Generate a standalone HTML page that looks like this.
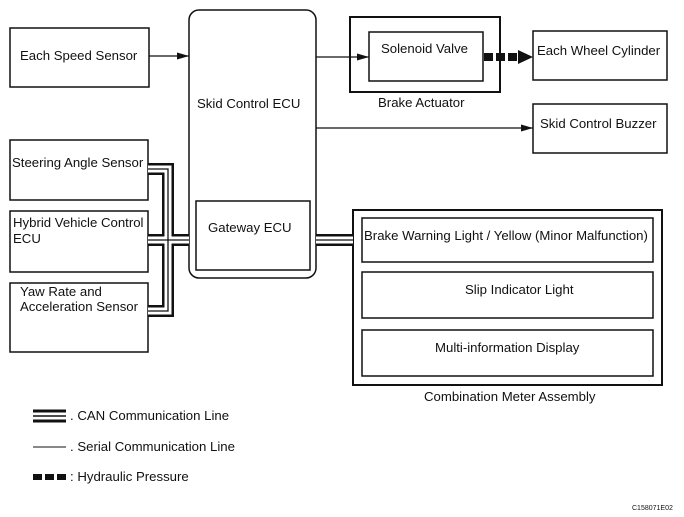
<!DOCTYPE html>
<html><head><style>
html,body{margin:0;padding:0;background:#fff;}
svg{display:block;}
text{font-family:"Liberation Sans",Arial,sans-serif;font-size:13.2px;fill:#111;}
</style></head><body>
<svg width="684" height="517" viewBox="0 0 684 517" xmlns="http://www.w3.org/2000/svg">
<defs>
<marker id="ah" markerWidth="12" markerHeight="8" refX="12" refY="4" orient="auto" markerUnits="userSpaceOnUse"><path d="M0,0.5 L12,4 L0,7.5 Z" fill="#111"/></marker>
</defs>
<g fill="none" stroke="#111" stroke-width="1.5">
<rect x="10" y="28" width="139" height="59"/>
<rect x="189" y="10" width="127" height="268" rx="10"/>
<rect x="196" y="201" width="114" height="69"/>
<rect x="350" y="17" width="150" height="75" stroke-width="2"/>
<rect x="369" y="32" width="114" height="49"/>
<rect x="533" y="31" width="134" height="49"/>
<rect x="533" y="104" width="134" height="49"/>
<rect x="10" y="140" width="138" height="60"/>
<rect x="10" y="211" width="138" height="61"/>
<rect x="10" y="283" width="138" height="69"/>
<rect x="353" y="210" width="309" height="175" stroke-width="2"/>
<rect x="362" y="218" width="291" height="44"/>
<rect x="362" y="272" width="291" height="46"/>
<rect x="362" y="330" width="291" height="46"/>
</g>
<g stroke="#111" stroke-width="1.2" fill="none">
<line x1="149" y1="56" x2="189" y2="56" marker-end="url(#ah)"/>
<line x1="316" y1="57" x2="369" y2="57" marker-end="url(#ah)"/>
<line x1="316" y1="128" x2="533" y2="128" marker-end="url(#ah)"/>
</g>
<line x1="484" y1="57" x2="520" y2="57" stroke="#111" stroke-width="8" stroke-dasharray="9,3"/>
<path d="M518,50 L533,57 L518,64 Z" fill="#111"/>
<g fill="none" stroke-linejoin="miter">
<path d="M148,169 H168 V311 H148 M148,240 H189 M316,240 H353" stroke="#111" stroke-width="12"/>
<path d="M148,169 H168 V311 H148 M148,240 H189 M316,240 H353" stroke="#fff" stroke-width="7"/>
<path d="M148,169 H168 V311 H148 M148,240 H189 M316,240 H353" stroke="#111" stroke-width="1.3"/>
</g>
<text x="20" y="60">Each Speed Sensor</text>
<text x="197" y="108">Skid Control ECU</text>
<text x="208" y="232">Gateway ECU</text>
<text x="381" y="53">Solenoid Valve</text>
<text x="378" y="107">Brake Actuator</text>
<text x="537" y="55">Each Wheel Cylinder</text>
<text x="540" y="128">Skid Control Buzzer</text>
<text x="12" y="167">Steering Angle Sensor</text>
<text x="13" y="227">Hybrid Vehicle Control</text>
<text x="13" y="243">ECU</text>
<text x="20" y="296">Yaw Rate and</text>
<text x="20" y="311">Acceleration Sensor</text>
<text x="364" y="240">Brake Warning Light / Yellow (Minor Malfunction)</text>
<text x="465" y="294">Slip Indicator Light</text>
<text x="435" y="352">Multi-information Display</text>
<text x="424" y="401">Combination Meter Assembly</text>
<g stroke="#111">
<line x1="33" y1="411" x2="66" y2="411" stroke-width="3"/>
<line x1="33" y1="416" x2="66" y2="416" stroke-width="1.5"/>
<line x1="33" y1="421" x2="66" y2="421" stroke-width="3"/>
<line x1="33" y1="447" x2="66" y2="447" stroke-width="1"/>
<line x1="33" y1="477" x2="66" y2="477" stroke-width="6" stroke-dasharray="9,3"/>
</g>
<text x="70" y="420">. CAN Communication Line</text>
<text x="70" y="451">. Serial Communication Line</text>
<text x="70" y="481">: Hydraulic Pressure</text>
<text x="632" y="510" style="font-size:7px">C158071E02</text>
</svg>
</body></html>
